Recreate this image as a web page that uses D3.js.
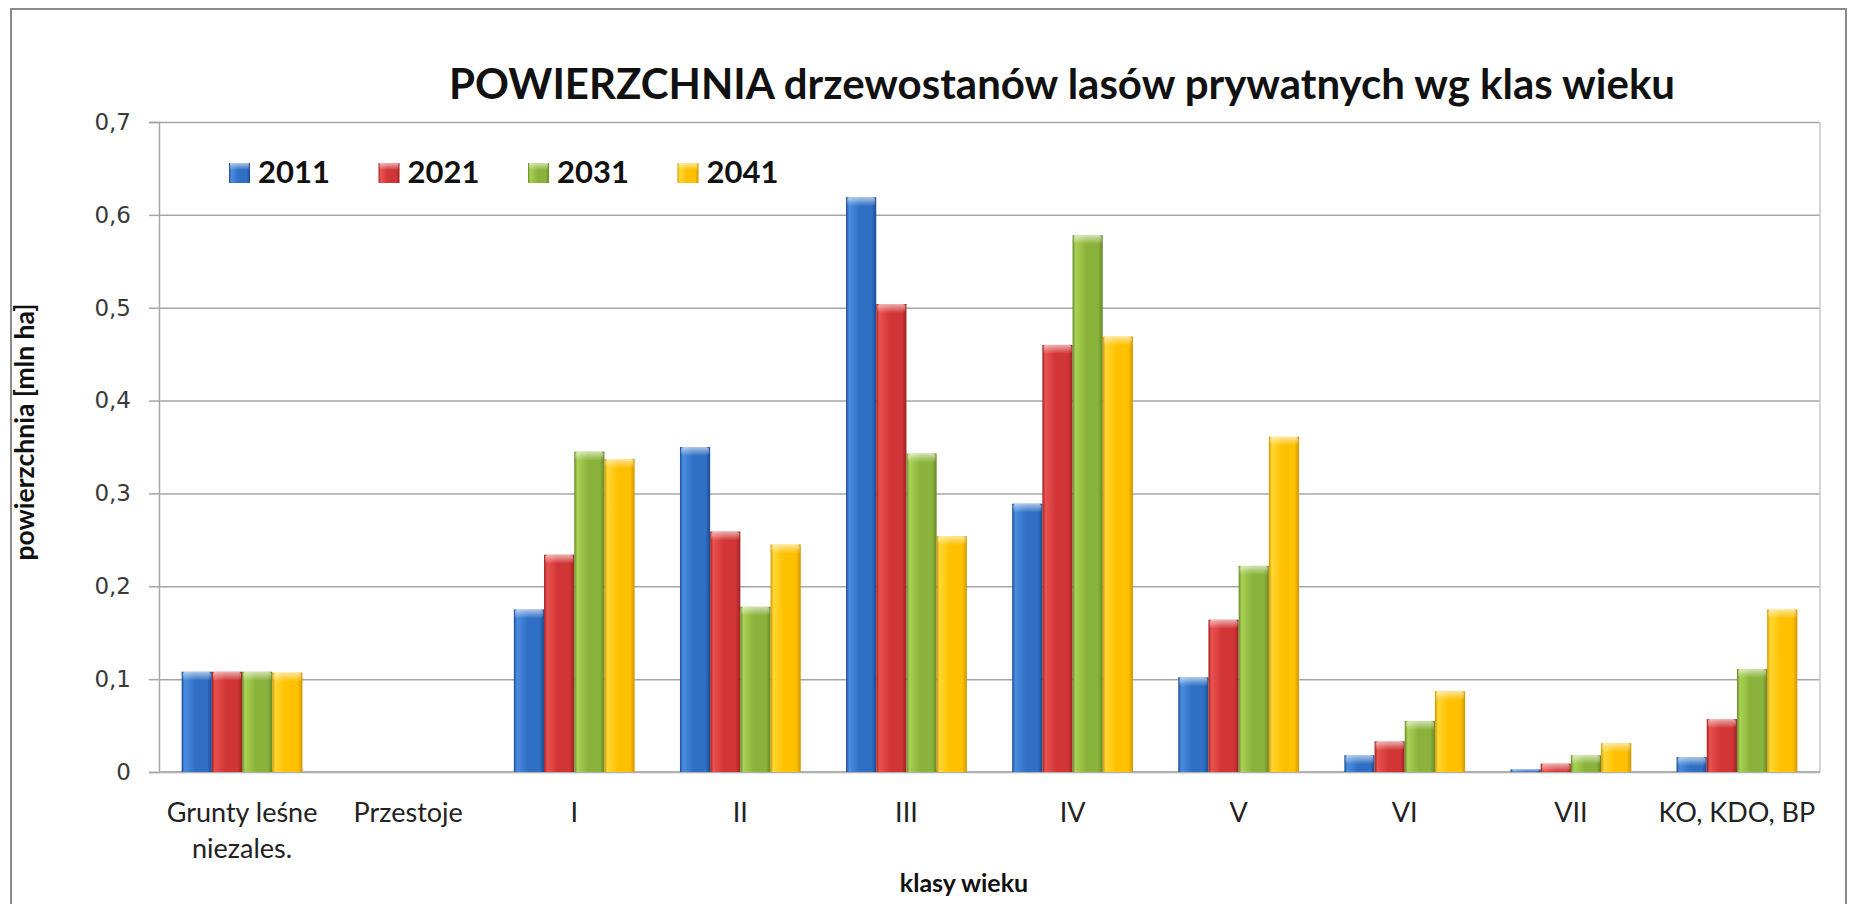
<!DOCTYPE html>
<html>
<head>
<meta charset="utf-8">
<script src="https://cdn.jsdelivr.net/npm/d3@7"></script>
<style>
  body { margin: 0; background: #fff; }
  svg { display: block; }
</style>
</head>
<body>
<div id="chart"></div>
<script>
// Chart data
const categories = ["Grunty leśne\nniezales.", "Przestoje", "I", "II", "III", "IV", "V", "VI", "VII", "KO, KDO, BP"];
const years = ["2011", "2021", "2031", "2041"];
const v2011 = [0.108, 0, 0.175, 0.350, 0.619, 0.289, 0.102, 0.018, 0.003, 0.016];
const v2021 = [0.108, 0, 0.234, 0.259, 0.504, 0.460, 0.164, 0.033, 0.009, 0.057];
const v2031 = [0.108, 0, 0.345, 0.178, 0.343, 0.578, 0.222, 0.055, 0.018, 0.111];
const v2041 = [0.107, 0, 0.337, 0.245, 0.254, 0.469, 0.361, 0.087, 0.031, 0.175];
const yTicks = [0, 0.1, 0.2, 0.3, 0.4, 0.5, 0.6, 0.7];

const titleText = "POWIERZCHNIA drzewostanów lasów prywatnych wg klas wieku";
const yTitle = "powierzchnia [mln ha]";
const xTitle = "klasy wieku";

// Bevel-like colours for each series: [light, mid, dark]
const seriesColors = [
  ["#4a8ddf", "#2f6fc4", "#1c4c91"],
  ["#e9524f", "#d13535", "#9c2222"],
  ["#a8d253", "#8ab33b", "#67872a"],
  ["#ffd733", "#ffc000", "#d19600"]
];

const W = 1849, H = 904;
const plot = { left: 159, right: 1820, top: 122, bottom: 772 };

const svg = d3.select("#chart").append("svg")
  .attr("width", W)
  .attr("height", H)
  .style("font-family", "Lato, 'Open Sans', sans-serif");

svg.append("rect").attr("width", W).attr("height", H).attr("fill", "#fff");

// outer chart border
svg.append("rect")
  .attr("x", 11).attr("y", 9)
  .attr("width", 1835).attr("height", 920)
  .attr("fill", "none")
  .attr("stroke", "#8a8a8a")
  .attr("stroke-width", 2);

// gradients
const defs = svg.append("defs");
seriesColors.forEach(function (c, i) {
  const g = defs.append("linearGradient").attr("id", "grad" + i)
    .attr("x1", "0%").attr("x2", "100%").attr("y1", "0%").attr("y2", "0%");
  g.append("stop").attr("offset", "0%").attr("stop-color", c[2]);
  g.append("stop").attr("offset", "10%").attr("stop-color", c[0]);
  g.append("stop").attr("offset", "45%").attr("stop-color", c[1]);
  g.append("stop").attr("offset", "85%").attr("stop-color", c[1]);
  g.append("stop").attr("offset", "100%").attr("stop-color", c[2]);
  const t = defs.append("linearGradient").attr("id", "cap" + i)
    .attr("x1", "0%").attr("x2", "0%").attr("y1", "0%").attr("y2", "100%");
  t.append("stop").attr("offset", "0%").attr("stop-color", "#fff").attr("stop-opacity", 0.6);
  t.append("stop").attr("offset", "100%").attr("stop-color", "#fff").attr("stop-opacity", 0);
});

// Scales
const x = d3.scaleBand()
  .domain(categories)
  .range([plot.left, plot.right])
  .paddingInner(1.5 / 5.5)
  .paddingOuter(0.75 / 5.5);

const xSub = d3.scaleBand().domain(years).range([0, x.bandwidth()]);

const y = d3.scaleLinear().domain([0, 0.7]).range([plot.bottom, plot.top]);

const fmt = function (d) { return d === 0 ? "0" : d3.format(".1f")(d).replace(".", ","); };

// gridlines
svg.append("g")
  .attr("transform", "translate(" + plot.left + ",0)")
  .call(d3.axisLeft(y).tickValues(yTicks).tickSize(-(plot.right - plot.left)).tickFormat(""))
  .call(g => g.select(".domain").remove())
  .selectAll("line")
  .attr("stroke", "#a6a6a6")
  .attr("stroke-width", 1.5);

// right border of plot area
svg.append("line")
  .attr("x1", plot.right).attr("x2", plot.right)
  .attr("y1", plot.top).attr("y2", plot.bottom)
  .attr("stroke", "#c8c8c8").attr("stroke-width", 1.5);

// y axis
const yAxis = svg.append("g")
  .attr("transform", "translate(" + plot.left + ",0)")
  .call(d3.axisLeft(y).tickValues(yTicks).tickSize(10).tickPadding(18).tickFormat(fmt));
yAxis.select(".domain").attr("stroke", "#a6a6a6").attr("stroke-width", 1.5);
yAxis.selectAll("line").attr("stroke", "#a6a6a6").attr("stroke-width", 1.5);
yAxis.selectAll("text")
  .style("font-family", "'DejaVu Sans', Verdana, sans-serif")
  .style("font-size", "23px")
  .attr("fill", "#3a3a3a");

// baseline
svg.append("line")
  .attr("x1", plot.left).attr("x2", plot.right)
  .attr("y1", y(0)).attr("y2", y(0))
  .attr("stroke", "#b0b0b0").attr("stroke-width", 2);

// bars
const seriesValues = [v2011, v2021, v2031, v2041];
const groups = svg.append("g").selectAll("g")
  .data(categories)
  .join("g")
  .attr("transform", d => "translate(" + x(d) + ",0)");

groups.each(function (cat, ci) {
  const g = d3.select(this);
  years.forEach(function (yr, si) {
    const v = seriesValues[si][ci];
    if (v <= 0) return;
    const bx = xSub(yr), bw = xSub.bandwidth();
    const top = y(v), h = y(0) - y(v);
    g.append("rect")
      .attr("x", bx).attr("y", top)
      .attr("width", bw).attr("height", h)
      .attr("fill", "url(#grad" + si + ")");
    g.append("rect")
      .attr("x", bx + 1).attr("y", top)
      .attr("width", bw - 2).attr("height", Math.min(9, h))
      .attr("rx", 3)
      .attr("fill", "url(#cap" + si + ")");
  });
});

// x labels
const xl = svg.append("g").selectAll("text")
  .data(categories)
  .join("text")
  .attr("x", d => x(d) + x.bandwidth() / 2)
  .attr("y", 822)
  .attr("text-anchor", "middle")
  .style("font-size", "27px")
  .attr("fill", "#222");
xl.each(function (d) {
  const t = d3.select(this);
  d.split("\n").forEach(function (line, i) {
    t.append("tspan")
      .attr("x", x(d) + x.bandwidth() / 2)
      .attr("dy", i === 0 ? 0 : 36)
      .text(line);
  });
});

// title
svg.append("text")
  .attr("x", 1062).attr("y", 99)
  .attr("text-anchor", "middle")
  .style("font-size", "42px")
  .style("font-weight", "bold")
  .attr("fill", "#111")
  .text(titleText);

// axis titles
svg.append("text")
  .attr("transform", "translate(34,432) rotate(-90)")
  .attr("text-anchor", "middle")
  .style("font-size", "26.5px")
  .style("font-weight", "bold")
  .attr("fill", "#111")
  .text(yTitle);

svg.append("text")
  .attr("x", 964).attr("y", 892)
  .attr("text-anchor", "middle")
  .style("font-size", "25px")
  .style("font-weight", "bold")
  .attr("fill", "#111")
  .text(xTitle);

// legend
const legend = svg.append("g").selectAll("g")
  .data(years)
  .join("g")
  .attr("transform", (d, i) => "translate(" + (229 + i * 149.5) + ",173)");

legend.append("rect")
  .attr("x", 0).attr("y", -10)
  .attr("width", 21).attr("height", 20)
  .attr("fill", (d, i) => "url(#grad" + i + ")");
legend.append("rect")
  .attr("x", 1).attr("y", -10)
  .attr("width", 19).attr("height", 7)
  .attr("fill", (d, i) => "url(#cap" + i + ")");
legend.append("text")
  .attr("x", 29).attr("y", 10)
  .style("font-size", "31px")
  .style("font-weight", "bold")
  .attr("fill", "#111")
  .text(d => d);
</script>
</body>
</html>
